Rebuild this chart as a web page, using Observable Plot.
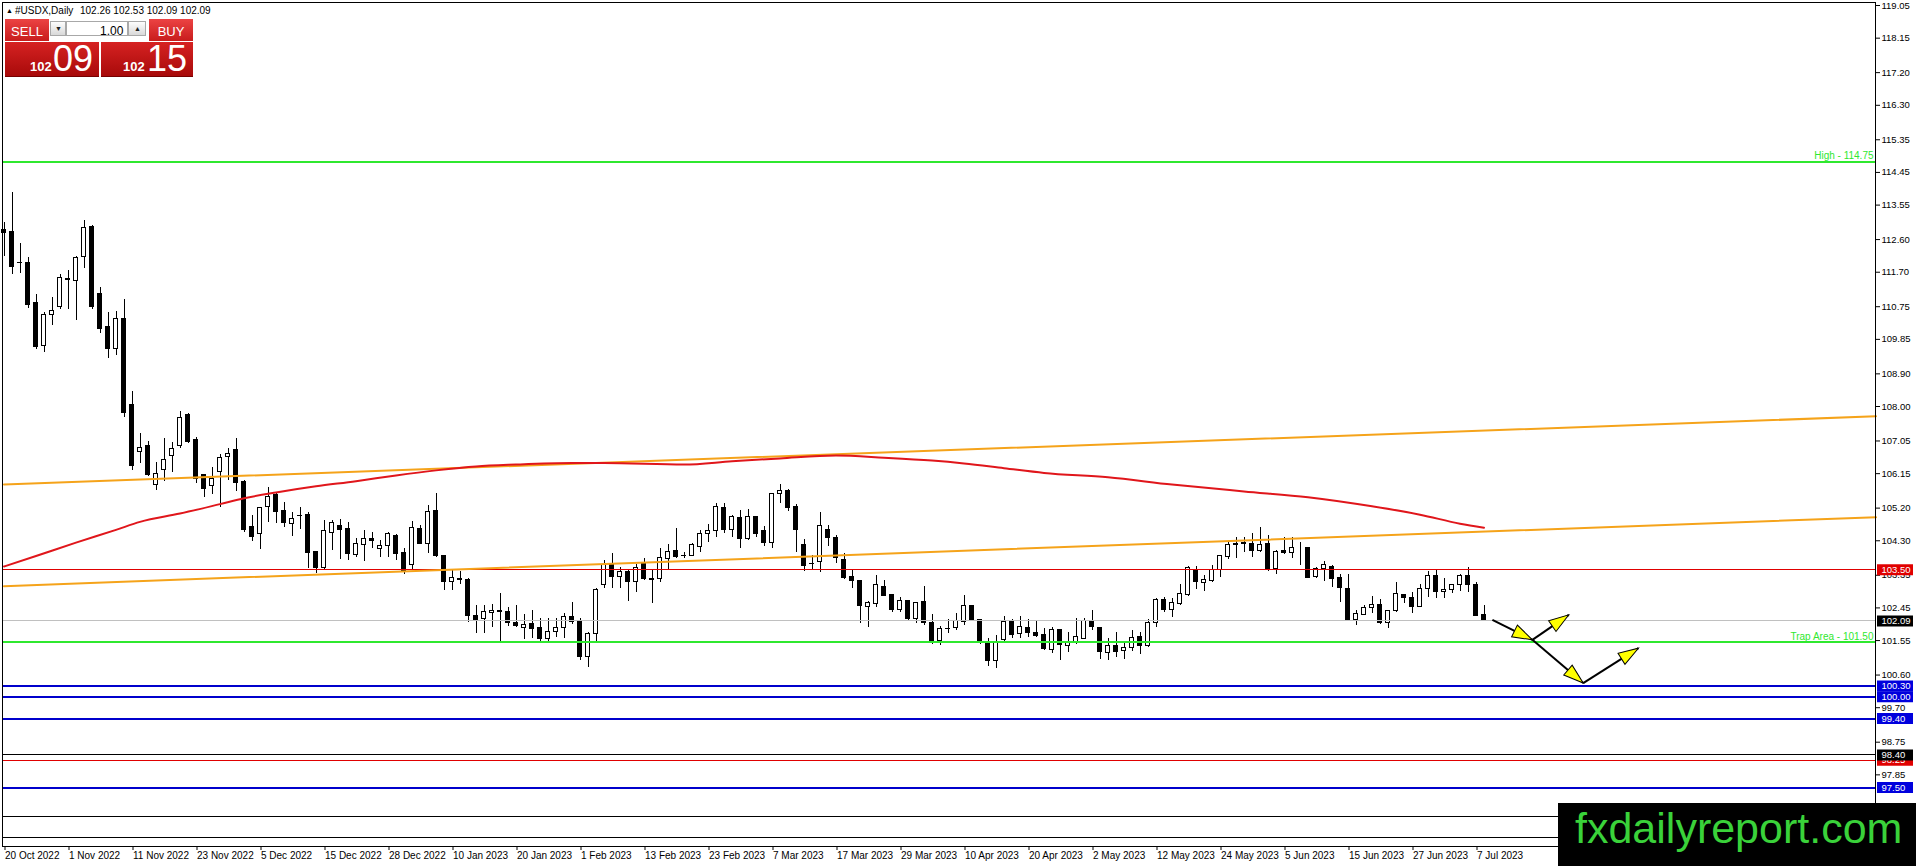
<!DOCTYPE html>
<html>
<head>
<meta charset="utf-8">
<script src="https://cdn.jsdelivr.net/npm/d3@7"></script>
<script src="https://cdn.jsdelivr.net/npm/@observablehq/plot@0.6"></script>
<style>
html,body{margin:0;padding:0;background:#fff;}
#wrap{position:relative;width:1916px;height:866px;overflow:hidden;font-family:"Liberation Sans",Arial,sans-serif;}
#chart{position:absolute;left:0;top:0;}
.abs{position:absolute;white-space:nowrap;line-height:1;}
.hdr{font-size:10px;color:#000;}
.btn{position:absolute;background:linear-gradient(#ec4343,#c81c1c);}
.btnTxt{position:absolute;color:#fff;font-size:13px;line-height:1;text-align:center;width:44px;font-family:"Liberation Sans Narrow","Liberation Sans",Arial,sans-serif;}
.gbox{position:absolute;background:linear-gradient(#fdfdfd,#d9d9d9);border:1px solid #a8a8a8;box-sizing:border-box;}
.big{position:absolute;background:linear-gradient(#d62222,#a80a0a);border-bottom:1px solid #700;}
.small{position:absolute;color:#fff;font-size:13px;font-weight:bold;line-height:1;}
.large{position:absolute;color:#fff;font-size:36px;line-height:1;font-family:"Liberation Sans Narrow","Liberation Sans",Arial,sans-serif;}
#logo{position:absolute;left:1558px;top:803px;width:358px;height:63px;background:#000;}
#logoTxt{position:absolute;left:1575px;top:806.6px;font-size:43px;line-height:1;color:#3ad23a;white-space:nowrap;}
</style>
</head>
<body>
<div id="wrap">
  <div id="chart"></div>

  <span class="abs hdr" style="left:6px;top:7px;font-size:7px;">▲</span>
  <span class="abs hdr" style="left:15px;top:5.5px;">#USDX,Daily</span>
  <span class="abs hdr" style="left:80px;top:5.5px;">102.26 102.53 102.09 102.09</span>

  <div class="btn" style="left:5px;top:19px;width:44px;height:22px;"></div>
  <span class="btnTxt" style="left:5px;top:25px;">SELL</span>
  <div class="gbox" style="left:50px;top:21px;width:16px;height:15px;"></div>
  <span class="abs" style="left:55px;top:25px;font-size:7px;color:#222;">▼</span>
  <div class="gbox" style="left:66px;top:21px;width:62px;height:15px;background:#fff;"></div>
  <span class="abs" style="left:100px;top:24.5px;font-size:12px;color:#000;">1.00</span>
  <div class="gbox" style="left:128px;top:21px;width:18px;height:15px;"></div>
  <span class="abs" style="left:134px;top:25px;font-size:7px;color:#222;">▲</span>
  <div class="btn" style="left:149px;top:19px;width:44px;height:22px;"></div>
  <span class="btnTxt" style="left:149px;top:25px;">BUY</span>

  <div class="big" style="left:5px;top:42px;width:94px;height:34px;"></div>
  <span class="small" style="left:30px;top:59.7px;">102</span>
  <span class="large" style="left:53px;top:41.2px;">09</span>
  <div class="big" style="left:101px;top:42px;width:92px;height:34px;"></div>
  <span class="small" style="left:123px;top:59.7px;">102</span>
  <span class="large" style="left:147px;top:41.2px;">15</span>

  <div id="logo"></div>
  <span id="logoTxt">fxdailyreport.com</span>
</div>

<script>
// ---------------- DATA ----------------
const xTickBars = [0,8,16,24,32,40,48,56,64,72,80,88,96,104,112,120,128,136,144,152,160,168,176,184];
const xTickLabels = ["20 Oct 2022","1 Nov 2022","11 Nov 2022","23 Nov 2022","5 Dec 2022","15 Dec 2022",
  "28 Dec 2022","10 Jan 2023","20 Jan 2023","1 Feb 2023","13 Feb 2023","23 Feb 2023","7 Mar 2023",
  "17 Mar 2023","29 Mar 2023","10 Apr 2023","20 Apr 2023","2 May 2023","12 May 2023","24 May 2023",
  "5 Jun 2023","15 Jun 2023","27 Jun 2023","7 Jul 2023"];

const yTicks = [119.05,118.15,117.20,116.30,115.35,114.45,113.55,112.60,111.70,110.75,109.85,108.90,
  108.00,107.05,106.15,105.20,104.30,103.35,102.45,101.55,100.60,99.70,98.75,97.85];

const opens = [
112.85,112.82,111.96,111.96,110.86,109.66,110.53,110.74,111.50,111.46,
112.12,112.96,111.09,110.19,109.58,110.40,108.03,106.74,106.90,105.84,
106.25,106.63,106.91,107.77,107.09,106.10,105.81,106.19,106.60,106.79,
105.93,104.69,104.49,105.24,105.55,105.13,104.77,104.97,105.00,103.98,
103.55,104.51,104.72,104.63,103.92,104.19,104.36,104.08,104.16,104.44,
103.97,103.64,104.63,104.20,105.11,103.89,103.16,103.24,103.21,102.24,
102.14,102.30,102.36,102.33,102.04,101.90,102.01,101.89,101.60,101.78,
101.90,102.21,102.10,101.09,101.72,103.09,103.62,103.30,103.45,103.16,
103.65,103.24,103.25,103.80,104.02,103.88,103.88,104.14,104.49,104.58,
105.21,104.60,104.92,104.35,104.95,104.56,104.24,105.58,105.66,105.24,
104.17,103.66,103.71,104.60,104.39,103.78,103.30,103.18,102.47,102.56,
103.02,102.81,102.38,102.63,102.15,102.60,102.04,101.53,101.88,101.90,
102.06,102.51,102.12,101.46,100.98,101.57,102.09,101.72,101.89,101.77,
101.71,101.30,101.83,101.41,101.49,101.60,102.08,101.90,101.21,101.41,
101.25,101.35,101.66,101.41,102.04,102.67,102.38,102.56,102.81,103.50,
103.14,103.19,103.50,103.85,104.20,104.25,104.22,104.01,104.20,103.53,
104.03,103.97,104.12,104.10,103.30,103.53,103.59,103.28,102.98,102.12,
102.26,102.45,102.52,102.04,102.36,102.81,102.73,102.47,102.96,103.32,
102.88,102.95,103.07,103.32,103.07,102.26];

const highs = [
113.08,113.91,112.48,112.10,111.10,110.58,111.00,111.64,111.75,112.12,
113.12,113.00,111.27,110.58,110.62,110.95,108.42,107.25,107.04,106.47,
107.11,107.00,107.86,107.80,107.15,106.12,106.31,106.69,106.83,107.11,
105.95,105.00,105.23,105.78,105.60,105.36,105.09,105.23,105.09,104.00,
104.86,104.86,104.90,104.79,104.35,104.57,104.54,104.31,104.54,104.46,
104.08,104.83,104.72,105.27,105.59,103.90,103.48,103.45,103.25,102.52,
102.52,102.54,102.86,102.47,102.52,102.26,102.38,102.15,102.15,102.15,
102.29,102.59,102.15,101.76,102.99,103.76,103.94,103.57,103.48,103.65,
103.80,103.48,104.08,104.19,104.63,103.99,104.22,104.58,104.74,105.32,
105.32,105.00,105.14,105.15,104.97,104.68,105.61,105.84,105.72,105.30,
104.33,103.89,105.07,104.72,104.45,103.94,103.48,103.21,102.64,103.34,
103.21,102.83,102.75,102.65,102.60,103.04,102.26,101.95,102.12,102.29,
102.79,102.53,102.14,101.60,101.69,102.20,102.13,102.21,102.12,102.10,
101.87,101.92,101.86,101.76,102.15,102.15,102.38,101.92,101.60,101.78,
101.53,101.83,101.78,102.13,102.70,102.75,102.70,103.10,103.59,103.59,
103.34,103.62,103.90,104.26,104.38,104.38,104.49,104.66,104.45,104.03,
104.38,104.38,104.26,104.12,103.57,103.73,103.62,103.37,103.37,102.38,
102.52,102.76,102.67,102.38,103.14,102.83,102.88,103.10,103.44,103.50,
103.25,103.10,103.37,103.55,103.16,102.53];

const lows = [
112.12,111.64,111.66,110.71,109.57,109.50,110.23,110.68,110.68,110.37,
111.79,110.67,110.00,109.33,109.41,107.69,106.25,106.44,106.06,105.68,
105.92,106.18,106.85,106.99,105.87,105.50,105.57,105.23,105.96,105.67,
104.54,104.29,104.05,104.81,104.77,104.67,104.42,104.61,103.53,103.41,
103.50,104.03,103.78,103.76,103.83,103.73,104.08,103.85,103.83,103.76,
103.36,103.52,104.20,103.96,103.83,102.93,102.93,103.09,102.04,101.74,
101.74,101.92,101.51,101.95,101.92,101.57,101.60,101.51,101.46,101.64,
101.62,102.00,101.00,100.80,101.51,102.98,102.98,102.98,102.63,102.87,
103.20,102.56,103.14,103.51,103.82,103.82,103.86,103.97,104.26,104.38,
104.51,104.38,104.08,104.32,104.40,104.15,104.08,105.34,105.12,103.99,
103.44,103.48,103.42,104.15,103.67,103.23,102.98,102.03,101.90,102.47,
102.77,102.33,102.33,102.10,102.01,101.97,101.44,101.42,101.74,101.83,
101.97,102.10,101.43,100.84,100.77,101.53,101.60,101.62,101.63,101.64,
101.28,101.20,101.00,101.23,101.43,101.58,101.83,101.03,101.00,101.09,
101.02,101.25,101.18,101.37,101.92,102.33,102.18,102.52,102.77,102.96,
102.91,103.16,103.30,103.78,103.80,103.99,103.85,103.97,103.46,103.36,
103.92,103.80,103.62,103.25,103.27,103.19,103.02,102.61,102.08,101.97,
102.24,102.29,101.98,101.89,102.33,102.58,102.29,102.45,102.75,102.72,
102.72,102.84,102.91,102.88,102.20,102.09];

const closes = [
112.78,111.84,111.95,110.81,109.63,110.53,110.64,111.55,111.49,112.08,
112.92,110.74,110.13,109.58,110.40,107.82,106.37,106.87,106.10,106.13,
106.53,106.83,107.69,107.01,105.99,105.73,106.00,106.58,106.70,105.90,
104.60,104.40,105.21,105.52,105.09,104.78,104.90,104.98,103.96,103.55,
104.57,104.79,104.61,103.93,104.22,104.35,104.29,104.15,104.49,103.94,
103.48,104.66,104.22,105.09,103.87,103.16,103.28,103.23,102.22,102.13,
102.33,102.37,102.35,102.03,101.95,101.98,101.87,101.58,101.78,101.90,
102.21,102.06,101.11,101.72,102.95,103.62,103.30,103.45,103.16,103.55,
103.25,103.23,103.82,103.99,103.85,103.87,104.17,104.49,104.57,105.24,
104.61,104.95,104.35,104.95,104.49,104.24,105.59,105.68,105.20,104.60,
103.60,103.65,104.72,104.37,103.83,103.27,103.19,102.50,102.58,103.09,
102.79,102.38,102.63,102.15,102.58,102.04,101.53,101.87,101.87,102.08,
102.51,102.12,101.55,100.98,101.52,102.06,101.69,101.92,101.76,101.67,
101.32,101.83,101.43,101.49,101.66,102.10,101.92,101.23,101.41,101.23,
101.35,101.63,101.41,102.04,102.67,102.38,102.58,102.84,103.54,103.16,
103.22,103.50,103.88,104.19,104.19,104.20,104.01,104.19,103.51,103.99,
103.96,104.11,104.12,103.27,103.53,103.62,103.25,103.00,102.10,102.27,
102.45,102.52,102.04,102.36,102.84,102.72,102.47,102.98,103.34,102.88,
102.95,103.07,103.34,103.09,102.22,102.09];

// 200-day moving average: [bar, value]
const maPoints = [[0,103.59],[4,103.88],[9,104.25],[14,104.60],[17,104.82],[22,105.05],[27,105.31],
  [30,105.47],[34,105.63],[39,105.80],[44,105.94],[49,106.10],[54,106.24],[59,106.35],[64,106.40],
  [71,106.44],[75,106.44],[85,106.40],[91,106.49],[97,106.57],[104,106.65],[110,106.59],[116,106.51],
  [120,106.43],[125,106.30],[130,106.17],[138,106.05],[146,105.85],[155,105.66],[163,105.50],
  [171,105.25],[177,105.02],[182,104.77],[185,104.66]];

// channel trend lines: [bar, price]
const channelUpper = [[0,105.85],[234,107.73]];
const channelLower = [[0,103.05],[234,104.95]];

// horizontal levels
const levelPrices = [114.75, 103.50, 102.09, 101.50, 100.30, 100.00, 99.40, 98.25, 98.40, 97.50, 96.70, 96.12];
const levelKinds  = ["target","pivot","bid","target","support","support","support","pivot","line","support","line","line"];
const noteTexts  = ["High - 114.75", "Trap Area - 101.50"];
const notePrices = [114.75, 101.50];

// projected path arrows: from [bar, price] to [bar, price]
const arrowFrom = [[186.05,102.12],[191.05,101.57],[191.05,101.57],[197.4,100.38]];
const arrowTo   = [[191.05,101.57],[195.6,102.26],[197.4,100.38],[204.3,101.34]];

// ---------------- LAYOUT / STYLE ----------------
const W = 1916, H = 866, mL = 2, mR = 41, mT = 2, mB = 20;
const xDomain = [-0.1875, 233.9375];
const yDomain = [95.8756, 119.1327];
const pxPerBar = (W - mL - mR) / (xDomain[1] - xDomain[0]);
const pxPerPrice = (H - mT - mB) / (yDomain[1] - yDomain[0]);
const axisFont = 9.5;

const lineStyle = {
  target:  {stroke: "#2fe82f", width: 2},
  pivot:   {stroke: "#e00000", width: 1},
  bid:     {stroke: "#c0c0c0", width: 1},
  support: {stroke: "#0000cc", width: 2},
  line:    {stroke: "#000000", width: 1}
};
const boxFill = {pivot: "#e00000", bid: "#000000", support: "#0000dd", line: "#000000"};

const bars = opens.map((o, i) => ({i, open: o, high: highs[i], low: lows[i], close: closes[i]}));
const upBars = bars.filter(d => d.close >= d.open);
const downBars = bars.filter(d => d.close < d.open);
const levels = levelPrices.map((p, k) => ({price: p, kind: levelKinds[k]}));
const boxed = levels.filter(d => d.kind !== "target");
const notes = noteTexts.map((t, k) => ({text: t, price: notePrices[k]}));
const arrows = arrowFrom.map((f, k) => ({x1: f[0], y1: f[1], x2: arrowTo[k][0], y2: arrowTo[k][1]}));
const tickLabel = new Map(xTickBars.map((b, k) => [b, xTickLabels[k]]));

const headSymbol = {draw(ctx) { ctx.moveTo(0, 0); ctx.lineTo(6.5, 20); ctx.lineTo(-6.5, 20); ctx.closePath(); }};
const boxSymbol = {draw(ctx) { ctx.rect(1.5, -5.5, 36, 11); }};
const headAngle = d => {
  const dx = (d.x2 - d.x1) * pxPerBar;
  const dy = -(d.y2 - d.y1) * pxPerPrice;
  return Math.atan2(dx, -dy) * 180 / Math.PI;
};

const marks = [];
// candles
marks.push(Plot.ruleX(bars, {x: "i", y1: "low", y2: "high", stroke: "#000", strokeWidth: 1, shapeRendering: "crispEdges"}));
marks.push(Plot.rect(downBars, {x1: d => d.i - 0.5, x2: d => d.i + 0.5, y1: "close", y2: "open",
  insetLeft: 2, insetRight: 2, fill: "#000", stroke: "#000", strokeWidth: 1, shapeRendering: "crispEdges"}));
marks.push(Plot.rect(upBars, {x1: d => d.i - 0.5, x2: d => d.i + 0.5, y1: "open", y2: "close",
  insetLeft: 2, insetRight: 2, fill: "#fff", stroke: "#000", strokeWidth: 1, shapeRendering: "crispEdges"}));
// horizontal levels
for (const kind of Object.keys(lineStyle)) {
  const s = lineStyle[kind];
  marks.push(Plot.ruleY(levels.filter(d => d.kind === kind), {y: "price", stroke: s.stroke, strokeWidth: s.width, shapeRendering: "crispEdges"}));
}
// channel
marks.push(Plot.line(channelUpper, {x: d => d[0], y: d => d[1], stroke: "#f5a31a", strokeWidth: 2}));
marks.push(Plot.line(channelLower, {x: d => d[0], y: d => d[1], stroke: "#f5a31a", strokeWidth: 2}));
// moving average
marks.push(Plot.line(maPoints, {x: d => d[0], y: d => d[1], stroke: "#e0161b", strokeWidth: 2, curve: "monotone-x"}));
// notes
marks.push(Plot.text(notes, {x: xDomain[1], y: "price", text: "text", textAnchor: "end", dx: -2, dy: -6,
  fill: "#2fe82f", fontSize: 10}));
// arrows
marks.push(Plot.link(arrows, {x1: "x1", y1: "y1", x2: "x2", y2: "y2", stroke: "#000", strokeWidth: 2}));
marks.push(Plot.dot(arrows, {x: "x2", y: "y2", symbol: headSymbol, rotate: headAngle, fill: "#ffff00", stroke: "#000", strokeWidth: 1}));
// frame & axes
marks.push(Plot.frame({stroke: "#000", shapeRendering: "crispEdges"}));
marks.push(Plot.axisY({anchor: "right", ticks: yTicks, tickFormat: d => d.toFixed(2), tickSize: 4, tickPadding: 2, fontSize: axisFont}));
marks.push(Plot.axisX({anchor: "bottom", ticks: xTickBars, tickFormat: d => tickLabel.get(d), tickSize: 4, tickPadding: 1,
  textAnchor: "start", dx: 1, fontSize: 10}));
// right-axis price boxes (98.40 drawn last so it sits on top, as in the reference)
const boxesUnder = boxed.filter(d => d.price !== 98.40);
const boxesOver = boxed.filter(d => d.price === 98.40);
for (const group of [boxesUnder, boxesOver]) {
  marks.push(Plot.dot(group, {x: xDomain[1], y: "price", symbol: boxSymbol, fill: d => boxFill[d.kind], stroke: "none"}));
  marks.push(Plot.text(group, {x: xDomain[1], y: "price", text: d => d.price.toFixed(2), textAnchor: "start", dx: 6, fill: "#fff", fontSize: axisFont}));
}

const chart = Plot.plot({
  width: W, height: H,
  marginLeft: mL, marginRight: mR, marginTop: mT, marginBottom: mB,
  x: {type: "linear", domain: xDomain, label: null},
  y: {type: "linear", domain: yDomain, label: null},
  color: {type: "identity"},
  style: {fontFamily: "Liberation Sans, Arial, sans-serif", fontSize: "10px", background: "#fff", color: "#000", overflow: "visible"},
  marks
});
document.getElementById("chart").appendChild(chart);
</script>
</body>
</html>
